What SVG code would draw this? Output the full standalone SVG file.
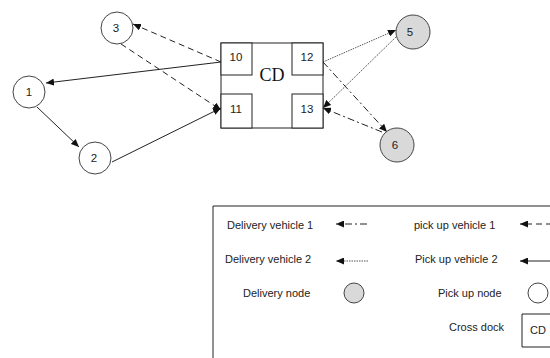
<svg xmlns="http://www.w3.org/2000/svg" width="550" height="358" viewBox="0 0 550 358">
<style>
.bg{fill:#fff}
.node circle{stroke:#444;stroke-width:1;fill:#fff}
.node.del circle{fill:#d9d9d9}
.lbl{font-family:"Liberation Sans",Arial,sans-serif;font-size:11.5px;fill:#222;text-anchor:middle}
.box{fill:#fff;stroke:#222;stroke-width:1}
.cd{font-family:"Liberation Serif","Times New Roman",serif;font-size:18px;fill:#111;text-anchor:middle}
.c{fill:none;stroke:#222;stroke-width:1;marker-end:url(#ah)}
.dash{stroke-dasharray:6,4}
.dot{stroke:#555;stroke-dasharray:1.5,1}
.dd{stroke-dasharray:7,3,2,3}
.leg{font-family:"Liberation Sans",Arial,sans-serif;font-size:11px;fill:#222}
</style>
<defs>
<marker id="ah" markerUnits="userSpaceOnUse" markerWidth="8" markerHeight="7" refX="8" refY="3.5" orient="auto">
<path d="M0,0 L8,3.5 L0,7 z" fill="#111"/>
</marker>
</defs>
<rect class="bg" x="0" y="0" width="550" height="358"/>

<g id="connectors">
<path class="c" d="M221,62 L46,83"/>
<path class="c" d="M37,107 L79,147"/>
<path class="c" d="M112,162 L221,108"/>
<path class="c dash" d="M221,62 L133,24"/>
<path class="c dash" d="M121,44 L221,110"/>
<path class="c dot" d="M323,62 L396,30"/>
<path class="c dot" d="M396,37 L323,108"/>
<path class="c dd" d="M323,62 L387,132"/>
<path class="c dd" d="M382,132 L323,108"/>
</g>

<g id="node-CD">
<rect class="box" x="221" y="43" width="102" height="85"/>
<text class="cd" x="272" y="81">CD</text>
</g>
<g id="node-10"><rect class="box" x="221" y="43" width="31" height="32"/><text class="lbl" x="236" y="61">10</text></g>
<g id="node-12"><rect class="box" x="292" y="43" width="31" height="32"/><text class="lbl" x="307" y="61">12</text></g>
<g id="node-11"><rect class="box" x="221" y="94" width="31" height="34"/><text class="lbl" x="236" y="113">11</text></g>
<g id="node-13"><rect class="box" x="292" y="94" width="31" height="34"/><text class="lbl" x="307" y="113">13</text></g>

<g id="node-1" class="node"><circle cx="29" cy="92" r="16"/><text class="lbl" x="29" y="96">1</text></g>
<g id="node-2" class="node"><circle cx="95" cy="158" r="16"/><text class="lbl" x="94" y="162">2</text></g>
<g id="node-3" class="node"><circle cx="117" cy="28" r="16"/><text class="lbl" x="116" y="32">3</text></g>
<g id="node-5" class="node del"><circle cx="413" cy="32" r="17"/><text class="lbl" x="410" y="36">5</text></g>
<g id="node-6" class="node del"><circle cx="397" cy="145" r="17"/><text class="lbl" x="395" y="149">6</text></g>

<g id="legend">
<path d="M213,358 L213,206 L551,206" fill="none" stroke="#222" stroke-width="1"/>
<text class="leg" x="227" y="229">Delivery vehicle 1</text>
<text class="leg" x="225" y="263">Delivery vehicle 2</text>
<text class="leg" x="243" y="297">Delivery node</text>
<text class="leg" x="414" y="229">pick up vehicle 1</text>
<text class="leg" x="415" y="263">Pick up vehicle 2</text>
<text class="leg" x="438" y="297">Pick up node</text>
<text class="leg" x="449" y="331">Cross dock</text>
<path class="c dd" d="M367,224 L336,224"/>
<path class="c dot" d="M368,261 L336,261"/>
<path class="c dash" d="M552,224 L520,224"/>
<path class="c" d="M552,261 L520,261"/>
<circle cx="354" cy="293" r="10" fill="#d9d9d9" stroke="#444"/>
<circle cx="538" cy="293" r="10" fill="#fff" stroke="#444"/>
<path d="M551,314 L522,314 L522,347 L551,347" fill="none" stroke="#222"/>
<text class="leg" x="530" y="334">CD</text>
</g>
</svg>
